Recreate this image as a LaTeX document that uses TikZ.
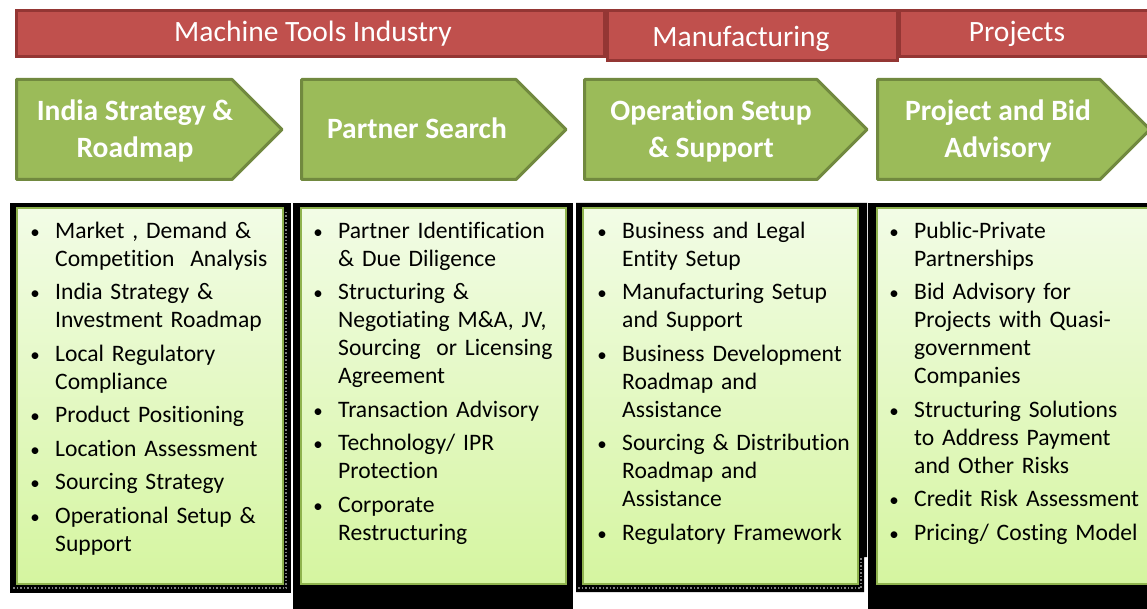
\documentclass[tikz,border=0pt]{standalone}
\usepackage{fontspec}
\setmainfont{Carlito}[Ligatures=NoCommon]
\definecolor{redfill}{HTML}{C0504D}
\definecolor{redline}{HTML}{943634}
\definecolor{grfill}{HTML}{9BBB59}
\definecolor{grline}{HTML}{71893F}
\definecolor{boxtop}{HTML}{F2FCE6}
\definecolor{boxbot}{HTML}{D5F5A0}
\definecolor{boxline}{HTML}{8FB34E}
\newcommand{\mybul}{\makebox[0pt][c]{\fontsize{19}{19}\selectfont\textbullet}}
\newenvironment{blist}{\begin{list}{\mybul}{%
  \setlength\leftmargin{20pt}\setlength\labelwidth{0pt}\setlength\labelsep{20pt}%
  \setlength\itemsep{5.5pt}\setlength\parsep{0pt}\setlength\topsep{0pt}%
  \setlength\partopsep{0pt}\setlength\itemindent{0pt}}}{\end{list}}
\tikzset{
  redbar/.style={fill=redfill, draw=redline, line width=3pt},
  redtext/.style={text=white, font=\fontsize{29.5}{34}\selectfont, inner sep=0pt, anchor=base},
  chev/.style={fill=grfill, draw=grline, line width=3pt, line join=round},
  chevtext/.style={text=white, font=\bfseries\fontsize{29.5}{37}\selectfont, align=center, inner sep=0pt},
  shadowbox/.style={fill=black},
  listbox/.style={draw=boxline, line width=2pt, top color=boxtop, bottom color=boxbot},
  dotedge/.style={draw=gray, dotted, line width=1.5pt},
  listtext/.style={anchor=north west, inner sep=0pt, text width=280pt, align=left,
    font=\fontsize{23.6}{28}\selectfont}
}
\begin{document}
\begin{tikzpicture}[x=1pt,y=-1pt]
\useasboundingbox (0,0) rectangle (1147,609);
\fill[white] (0,0) rectangle (1147,609);

% red header bars
\path[redbar] (16.5,10.5) rectangle (604.5,56.5);
\path[redbar] (899,10.5) rectangle (1152,56.5);
\path[redbar] (607.5,10.5) rectangle (897.5,60.5);
\node[redtext] (mti) at (313,42) {Machine Tools Industry};
\node[redtext] (mfg) at (741,47) {Manufacturing};
\node[redtext] (prj) at (1017,42) {Projects};

% chevrons
\path[chev] (16.5,79.5) -- (232,79.5) -- (282,129.5) -- (232,179.5) -- (16.5,179.5) -- cycle;
\path[chev] (301.5,79.5) -- (516,79.5) -- (566,129.5) -- (516,179.5) -- (301.5,179.5) -- cycle;
\path[chev] (584.5,79.5) -- (817,79.5) -- (867,129.5) -- (817,179.5) -- (584.5,179.5) -- cycle;
\path[chev] (877.5,79.5) -- (1100,79.5) -- (1150,129.5) -- (1100,179.5) -- (877.5,179.5) -- cycle;
\node[chevtext] (c1) at (135,130.5) {India Strategy \&\\Roadmap};
\node[chevtext] (c2) at (417,128) {Partner Search};
\node[chevtext] (c3) at (711,130.5) {Operation Setup\\\& Support};
\node[chevtext] (c4) at (998,130.5) {Project and Bid\\Advisory};

% black shadows
\path[shadowbox] (10,203) rectangle (291,593);
\path[shadowbox] (293,203) rectangle (573,609);
\path[shadowbox] (576,203) -- (867,203) -- (867,557) -- (864,557) -- (864,592) -- (576,592) -- cycle;
\path[shadowbox] (868,203) rectangle (1147,609);
\path[dotedge] (286,212) -- (286,588) -- (12,588);
\path[dotedge] (861,558) -- (861,588) -- (578,588);

% list boxes
\path[listbox] (17,208) rectangle (283,584);
\path[listbox] (301,208) rectangle (566,584);
\path[listbox] (583,208) rectangle (858,584);
\path[listbox] (877,208) rectangle (1155,584);

\node[listtext] (l1) at (35,210) {\begin{blist}
\item Market , Demand \&\\Competition\ \ Analysis
\item India Strategy \&\\Investment Roadmap
\item Local Regulatory\\Compliance
\item Product Positioning
\item Location Assessment
\item Sourcing Strategy
\item Operational Setup \&\\Support
\end{blist}};
\node[listtext] (l2) at (318,210) {\begin{blist}
\item Partner Identification\\\& Due Diligence
\item Structuring \&\\Negotiating M\&A, JV,\\Sourcing\ \ or Licensing\\Agreement
\item Transaction Advisory
\item Technology/ IPR\\Protection
\item Corporate\\Restructuring
\end{blist}};
\node[listtext] (l3) at (602,210) {\begin{blist}
\item Business and Legal\\Entity Setup
\item Manufacturing Setup\\and Support
\item Business Development\\Roadmap and\\Assistance
\item Sourcing \& Distribution\\Roadmap and\\Assistance
\item Regulatory Framework
\end{blist}};
\node[listtext] (l4) at (894,210) {\begin{blist}
\item Public-Private\\Partnerships
\item Bid Advisory for\\Projects with Quasi-\\government\\Companies
\item Structuring Solutions\\to Address Payment\\and Other Risks
\item Credit Risk Assessment
\item Pricing/ Costing Model
\end{blist}};
\end{tikzpicture}
\end{document}
